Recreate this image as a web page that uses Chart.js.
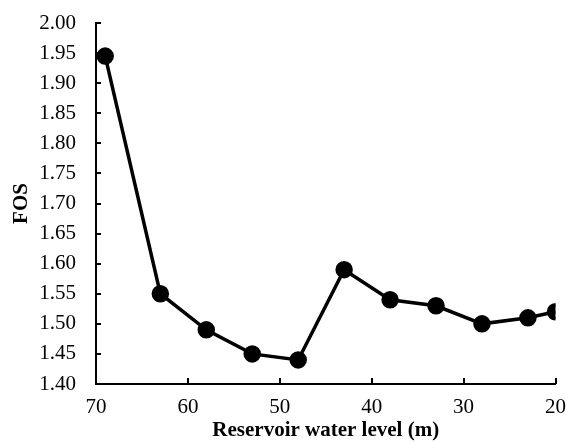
<!DOCTYPE html>
<html><head><meta charset="utf-8">
<script src="https://cdn.jsdelivr.net/npm/chart.js@4"></script>
<style>html,body{margin:0;padding:0;background:#fff}#wrap{width:566px;height:443px}</style>
</head><body><div id="wrap"><canvas id="c" width="566" height="443"></canvas></div>
<script>
const waterLevel = [69, 63, 58, 53, 48, 43, 38, 33, 28, 23, 20];
const fos = [1.945, 1.55, 1.49, 1.45, 1.44, 1.59, 1.54, 1.53, 1.50, 1.51, 1.52];
const xTicks = [70, 60, 50, 40, 30, 20];
const yTicks = [1.40, 1.45, 1.50, 1.55, 1.60, 1.65, 1.70, 1.75, 1.80, 1.85, 1.90, 1.95, 2.00];

const FONT = "'Liberation Serif','Times New Roman',serif";

const inwardTicks = {
  id: 'inwardTicks',
  afterDraw(chart) {
    const ctx = chart.ctx, xs = chart.scales.x, ys = chart.scales.y;
    const ca = chart.chartArea;
    ctx.save();
    ctx.strokeStyle = '#000';
    ctx.lineWidth = 2;
    ctx.beginPath();
    yTicks.forEach(v => {
      const p = Math.round(ys.getPixelForValue(v));
      ctx.moveTo(ca.left, p); ctx.lineTo(ca.left + 5, p);
    });
    xTicks.forEach(v => {
      const p = Math.round(xs.getPixelForValue(v));
      ctx.moveTo(p, ca.bottom); ctx.lineTo(p, ca.bottom - 6);
    });
    ctx.stroke();
    ctx.restore();
  }
};

new Chart(document.getElementById('c'), {
  type: 'line',
  data: {
    datasets: [{
      data: waterLevel.map((x, i) => ({x, y: fos[i]})),
      borderColor: '#000',
      backgroundColor: '#000',
      borderWidth: 3.5,
      pointRadius: 7,
      pointHoverRadius: 7,
      pointBackgroundColor: '#000',
      pointBorderColor: '#000',
      tension: 0
    }]
  },
  options: {
    responsive: false,
    animation: false,
    devicePixelRatio: 1,
    layout: { padding: { top: 23, right: 10, left: 0, bottom: 0 } },
    plugins: { legend: { display: false }, tooltip: { enabled: false } },
    scales: {
      x: {
        type: 'linear',
        reverse: true,
        min: 20, max: 70,
        afterBuildTicks(s) { s.ticks = xTicks.map(v => ({value: v})); },
        afterFit(s) { s.height = 59; s.paddingLeft = 0; s.paddingRight = 0; },
        grid: { display: false, drawTicks: false },
        border: { display: true, color: '#000', width: 2 },
        ticks: { color: '#000', font: { family: FONT, size: 21 }, padding: 11, maxRotation: 0 },
        title: { display: true, text: 'Reservoir water level (m)', color: '#000',
                 font: { family: FONT, size: 21, weight: 'bold' }, padding: { top: 0, bottom: 0 } }
      },
      y: {
        min: 1.40, max: 2.00,
        afterBuildTicks(s) { s.ticks = yTicks.map(v => ({value: v})); },
        afterFit(s) { s.width = 96; s.paddingTop = 0; s.paddingBottom = 0; },
        grid: { display: false, drawTicks: false },
        border: { display: true, color: '#000', width: 2 },
        ticks: { color: '#000', font: { family: FONT, size: 21 }, padding: 20,
                 callback: v => Number(v).toFixed(2) },
        title: { display: true, text: 'FOS', color: '#000',
                 font: { family: FONT, size: 21, weight: 'bold' }, padding: { top: 9, bottom: 0 } }
      }
    }
  },
  plugins: [inwardTicks]
});
</script></body></html>
